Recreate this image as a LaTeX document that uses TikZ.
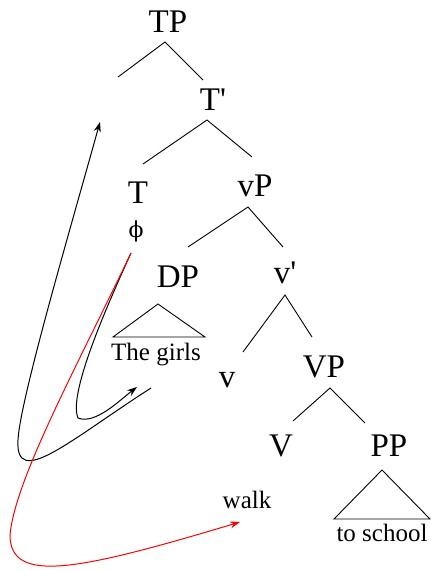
\documentclass[tikz,border=0pt]{standalone}
\usepackage{fontspec}
\setmainfont{Liberation Serif}
\newfontfamily\greekserif{DejaVu Serif}
\usetikzlibrary{arrows.meta}

\begin{document}
\begin{tikzpicture}[x=1pt,y=-1pt,>=Stealth,line width=.9pt,
  cat/.style={inner sep=0pt,font=\fontsize{33}{36}\selectfont},
  word/.style={inner sep=0pt,font=\fontsize{25}{28}\selectfont},
  mv/.style={line width=1pt,-{Stealth[length=10pt,width=7pt]}}]
  \useasboundingbox (0,0) rectangle (431,571);
  % category labels
  \node[cat] (TP) at (168,22) {TP};
  \node[cat] (Tbar) at (213,100) {T\textquotesingle};
  \node[cat] (T) at (138,193) {T};
  \node[word,font=\greekserif\fontsize{22}{24}\selectfont] (phi) at (136,231) {ϕ};
  \node[cat] (vP) at (255,186) {vP};
  \node[cat] (DP) at (178,277) {DP};
  \node[cat] (vbar) at (285,273) {v\textquotesingle};
  \node[cat] (v) at (227,380) {v};
  \node[cat] (VP) at (324,367) {VP};
  \node[cat] (V) at (281,446) {V};
  \node[cat] (PP) at (389,446) {PP};
  \node[word] (girls) at (156,355) {The girls};
  \node[word] (walk) at (247,500) {walk};
  \node[word] (school) at (382,533) {to school};
  % branch ends
  \coordinate (TP-a) at (165,42);   \coordinate (spec-t) at (118,77);
  \coordinate (Tbar-t) at (203,80); \coordinate (Tbar-a) at (207,120);
  \coordinate (T-t) at (143,164);   \coordinate (vP-t) at (252,157);
  \coordinate (vP-a) at (248,207);  \coordinate (DP-t) at (188,247);
  \coordinate (vbar-t) at (283,247);\coordinate (vbar-a) at (285,295);
  \coordinate (v-t) at (243,352);   \coordinate (VP-t) at (312,337);
  \coordinate (VP-a) at (330,388);  \coordinate (V-t) at (293,421);
  \coordinate (PP-t) at (365,423);
  \foreach \p/\l/\r in {TP/spec/Tbar,Tbar/T/vP,vP/DP/vbar,vbar/v/VP,VP/V/PP}
    \draw (\l-t) -- (\p-a) -- (\r-t);
  % roofs
  \coordinate (DP-a) at (158,304); \coordinate (girls-l) at (113,337); \coordinate (girls-r) at (205,337);
  \coordinate (PP-a) at (382,470); \coordinate (school-l) at (334,519); \coordinate (school-r) at (430,519);
  \draw (DP-a) -- (girls-l) -- (girls-r) -- cycle;
  \draw (PP-a) -- (school-l) -- (school-r) -- cycle;
  % movement
  \coordinate (t-trace) at (131,253);
  \coordinate (subj-trace) at (151,388);
  \coordinate (spec-head) at (100,122);
  \coordinate (girls-head) at (137,387);
  \coordinate (walk-head) at (240,522);
  \draw[mv] (subj-trace) .. controls (70,440) and (15,490) .. (18,440)
    .. controls (20,400) and (70,230) .. (spec-head);
  \draw[mv] (t-trace) .. controls (105,310) and (68,395) .. (78,418)
    .. controls (95,425) and (120,400) .. (girls-head);
  \draw[mv,red] (t-trace) .. controls (75,370) and (15,480) .. (10,535)
    .. controls (10,585) and (80,570) .. (walk-head);
\end{tikzpicture}
\end{document}
